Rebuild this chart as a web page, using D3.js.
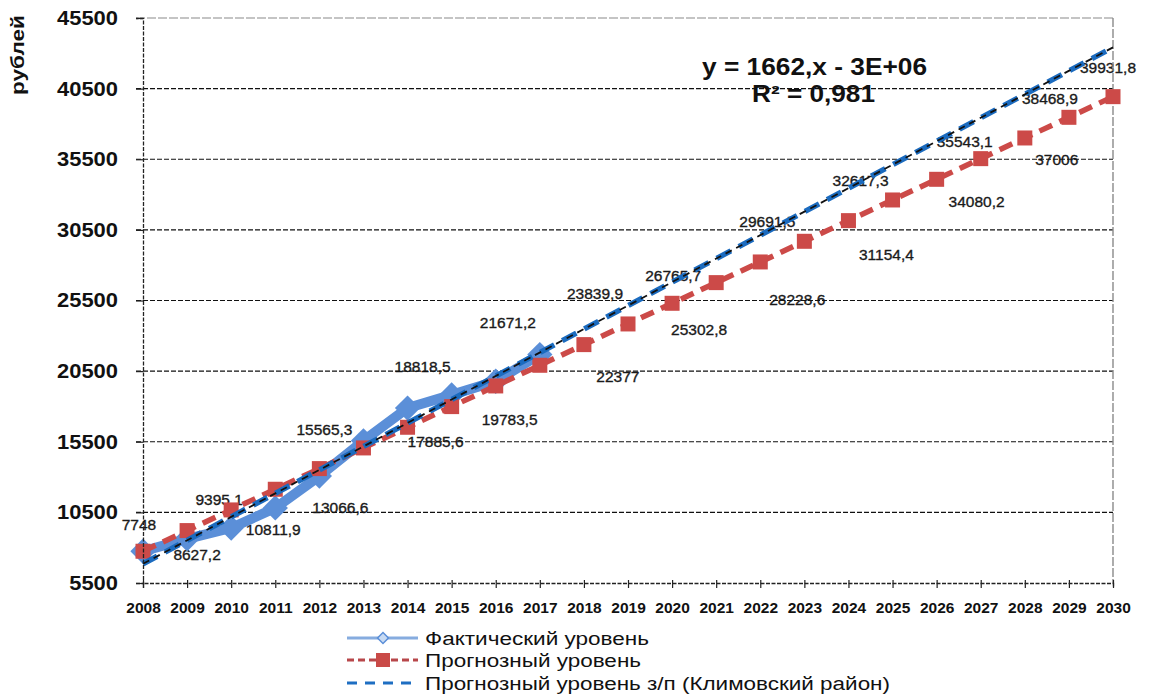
<!DOCTYPE html>
<html><head><meta charset="utf-8">
<script src="https://cdn.jsdelivr.net/npm/d3@7"></script>
<style>body{margin:0;background:#fff} svg{display:block;font-family:Arial,"Liberation Sans",sans-serif}</style>
</head><body><svg id="chart" width="1152" height="697"></svg>
<script>
// ---------- data ----------
const years = [2008,2009,2010,2011,2012,2013,2014,2015,2016,2017,2018,2019,2020,2021,2022,2023,2024,2025,2026,2027,2028,2029,2030];
const actualYears = [2008,2009,2010,2011,2012,2013,2014,2015,2016,2017];
const actualValues = [7748,8627.2,9395.1,10811.9,13066.6,15565.3,17885.6,18818.5,19783.5,21671.2];
const forecastValues = [7748,9210.9,10673.8,12136.7,13599.6,15062.5,16525.4,17988.3,19451.2,20914.1,22377,23839.9,25302.8,26765.7,28228.6,29691.5,31154.4,32617.3,34080.2,35543.1,37006,38468.9,39931.8];
const regionYears = [2008,2030];
const regionValues = [6858,43423];
const yTicks = [5500,10500,15500,20500,25500,30500,35500,40500,45500];
const seriesNames = ["Фактический уровень","Прогнозный уровень","Прогнозный уровень з/п (Климовский район)"];
const yTitle = "рублей";
const eqText = "y = 1662,x - 3E+06";
const r2Text = "R² = 0,981";
// label placement (dx, dy relative to the point), one per year
const labelOffsets = [[-4,-21],[10,21],[-12,-23],[-2,27],[21,37],[-39,-6],[28,39],[-29,-23],[14,44],[-32,-27],
  [34,37],[-33,-25],[27,32],[-43,-2],[37,43],[-37,-14],[38,39],[-32,-14],[40,28],[-16,-12],[32,27],[-19,-13],[-5,-24]];

// ---------- layout ----------
const svg = d3.select("#chart");
const pL = 143, pR = 1113, pT = 18, pB = 583;
const x = d3.scalePoint().domain(years).range([pL, pR]);
const y = d3.scaleLinear().domain([5500, 45500]).range([pB, pT]);
const fmt = v => Number.isInteger(v) ? String(v) : v.toFixed(1).replace(".", ",");

const gLabels = svg.append("g");
const gGrid = svg.append("g");
const gSeries = svg.append("g");

// equation
gLabels.append("text").attr("x", 702).attr("y", 75).attr("font-size", 23).attr("font-weight", "bold")
  .attr("fill", "#111").attr("textLength", 225).attr("lengthAdjust", "spacingAndGlyphs").text(eqText);
gLabels.append("text").attr("x", 752).attr("y", 102).attr("font-size", 23).attr("font-weight", "bold")
  .attr("fill", "#111").attr("textLength", 123).attr("lengthAdjust", "spacingAndGlyphs").text(r2Text);

// data labels
years.forEach((yr, i) => {
  const ai = actualYears.indexOf(yr);
  const v = ai >= 0 ? actualValues[ai] : forecastValues[i];
  const [dx, dy] = labelOffsets[i];
  gLabels.append("text").attr("x", x(yr) + dx).attr("y", y(v) + dy)
    .attr("text-anchor", "middle").attr("font-size", 15.5).attr("fill", "#1a1a1a")
    .attr("stroke", "#1a1a1a").attr("stroke-width", 0.35).text(fmt(v));
});

// gridlines
yTicks.forEach(t => {
  if (t === 5500) return;
  const isTop = t === 45500;
  gGrid.append("line").attr("x1", pL - 7).attr("x2", pR).attr("y1", y(t)).attr("y2", y(t))
    .attr("stroke", isTop ? "#8a8a8a" : "#111").attr("stroke-width", 1.2)
    .attr("stroke-dasharray", isTop ? "9,2" : "5,2");
});
// right border
gGrid.append("line").attr("x1", pR).attr("x2", pR).attr("y1", pT).attr("y2", pB)
  .attr("stroke", "#8a8a8a").attr("stroke-width", 1.4).attr("stroke-dasharray", "9,2");

// y axis
const yAxis = d3.axisLeft(y).tickValues(yTicks).tickSize(7).tickPadding(18).tickFormat(d3.format("d"));
const ga = svg.append("g").attr("transform", `translate(${pL},0)`).call(yAxis);
ga.select(".domain").attr("stroke", "#222").attr("stroke-width", 1.3).attr("stroke-dasharray", "4,1.5");
ga.selectAll(".tick line").attr("stroke", "#222").attr("stroke-width", 1.2);
ga.selectAll(".tick text").attr("font-size", 20).attr("font-weight", "bold").attr("fill", "#111")
  .attr("font-family", "Arial, 'Liberation Sans', sans-serif")
  .attr("textLength", d => String(d).length * 12.2).attr("lengthAdjust", "spacingAndGlyphs");

// x axis
const xAxis = d3.axisBottom(x).tickSize(5).tickPadding(14);
const gx = svg.append("g").attr("transform", `translate(0,${pB})`).call(xAxis);
gx.select(".domain").attr("stroke", "#222").attr("stroke-width", 1.3).attr("stroke-dasharray", "4,1.5");
gx.selectAll(".tick line").attr("stroke", "#222").attr("stroke-width", 1.2).attr("y1", -3);
gx.selectAll(".tick text").attr("font-size", 15.5).attr("font-weight", "bold").attr("fill", "#111")
  .attr("font-family", "Arial, 'Liberation Sans', sans-serif");

// y title
svg.append("text").attr("transform", "translate(24,55) rotate(-90)").attr("text-anchor", "middle")
  .attr("font-size", 18).attr("font-weight", "bold").attr("fill", "#111")
  .attr("textLength", 80).attr("lengthAdjust", "spacingAndGlyphs").text(yTitle);

// ---------- series ----------
const line = d3.line().x(d => x(d[0])).y(d => y(d[1]));
const actual = actualYears.map((yr, i) => [yr, actualValues[i]]);
const forecast = years.map((yr, i) => [yr, forecastValues[i]]);
const region = regionYears.map((yr, i) => [yr, regionValues[i]]);

// actual
gSeries.append("path").attr("d", line(actual)).attr("fill", "none").attr("stroke", "#5b8fd8")
  .attr("stroke-width", 10).attr("stroke-linejoin", "round");
gSeries.selectAll(".dia").data(actual).join("path")
  .attr("transform", d => `translate(${x(d[0])},${y(d[1])}) rotate(45)`)
  .attr("d", d3.symbol(d3.symbolSquare, 320)).attr("fill", "#5b8fd8");

// forecast
gSeries.append("path").attr("d", line(forecast)).attr("fill", "none").attr("stroke", "#cc4a48")
  .attr("stroke-width", 5.5).attr("stroke-dasharray", "14,8");
gSeries.selectAll(".sq").data(forecast).join("rect")
  .attr("x", d => x(d[0]) - 7.5).attr("y", d => y(d[1]) - 7.5).attr("width", 15).attr("height", 15)
  .attr("fill", "#cc4a48");

// region forecast (blue dashed)
gSeries.append("path").attr("d", line(region)).attr("fill", "none").attr("stroke", "#1b6bbf")
  .attr("stroke-width", 5.5).attr("stroke-dasharray", "16,9");

// linear trendline of the actual data
const xm = d3.mean(actualYears), ym = d3.mean(actualValues);
const slope = d3.sum(actualYears, (yr, i) => (yr - xm) * (actualValues[i] - ym)) / d3.sum(actualYears, yr => (yr - xm) ** 2);
const trend = [years[0], years[years.length - 1]].map(yr => [yr, ym + slope * (yr - xm)]);
gSeries.append("path").attr("d", line(trend)).attr("fill", "none").attr("stroke", "#111")
  .attr("stroke-width", 1.8).attr("stroke-dasharray", "7,5");

// ---------- legend ----------
const lg = svg.append("g");
const lx1 = 347, lx2 = 418, lcx = 383, tx = 425;
const rows = [638, 660, 683];
const textLens = [224, 216, 465];
// row 1
lg.append("line").attr("x1", lx1).attr("x2", lx2).attr("y1", rows[0]).attr("y2", rows[0]).attr("stroke", "#86acdf").attr("stroke-width", 3);
lg.append("path").attr("transform", `translate(${lcx},${rows[0]}) rotate(45)`).attr("d", d3.symbol(d3.symbolSquare, 60))
  .attr("fill", "#c7daf3").attr("stroke", "#5b8fd8").attr("stroke-width", 1.5);
// row 2
lg.append("line").attr("x1", lx1).attr("x2", lx2).attr("y1", rows[1]).attr("y2", rows[1]).attr("stroke", "#b8474a")
  .attr("stroke-width", 3).attr("stroke-dasharray", "7,4");
lg.append("rect").attr("x", lcx - 7).attr("y", rows[1] - 7).attr("width", 14).attr("height", 14).attr("fill", "#c94a47");
// row 3
lg.append("line").attr("x1", lx1).attr("x2", lx2).attr("y1", rows[2]).attr("y2", rows[2]).attr("stroke", "#1e6ec2")
  .attr("stroke-width", 3).attr("stroke-dasharray", "10,8");
seriesNames.forEach((n, i) => {
  lg.append("text").attr("x", tx).attr("y", rows[i] + 7).attr("font-size", 18).attr("fill", "#111")
    .attr("textLength", textLens[i]).attr("lengthAdjust", "spacingAndGlyphs").text(n);
});
</script>
</body></html>
